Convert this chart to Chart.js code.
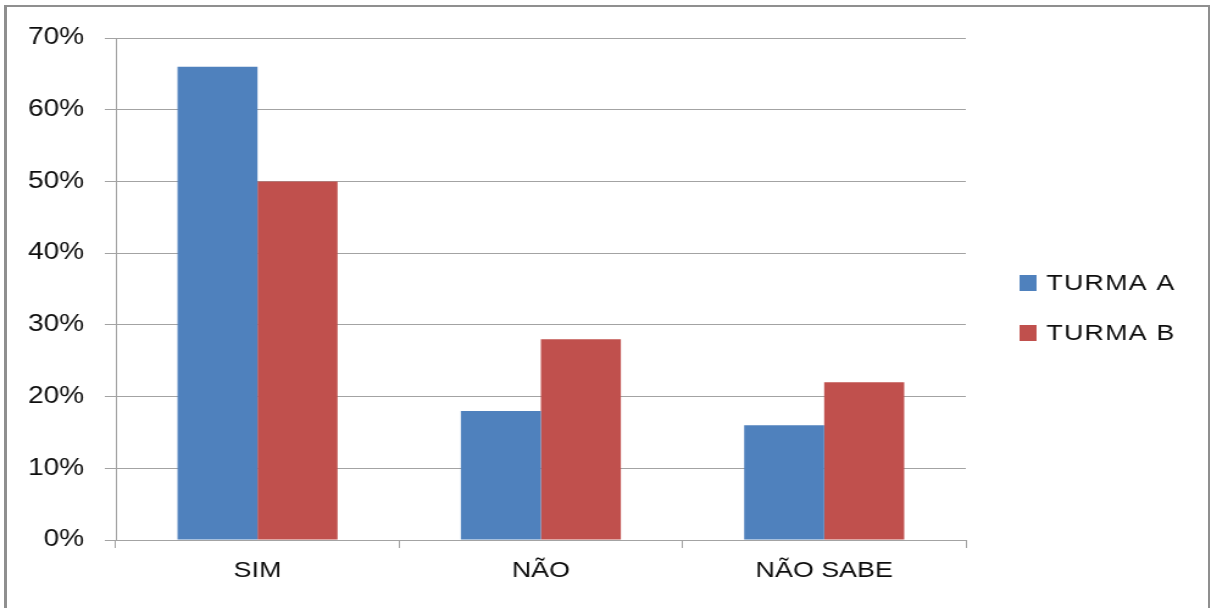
<!DOCTYPE html>
<html>
<head>
<meta charset="utf-8">
<script src="https://cdn.jsdelivr.net/npm/chart.js@4.4.1/dist/chart.umd.min.js"></script>
<style>
  html, body { margin: 0; padding: 0; background: #fff; }
  body { width: 1211px; height: 608px; position: relative; overflow: hidden; }
  #stage { position: absolute; left: 0; top: 0; width: 993px; height: 608px;
           transform-origin: 0 0; transform: scaleX(1.2195); }
  #frame { position: absolute; left: 4px; top: 5px; width: 1201px; height: 620px;
           border-left: 3px solid #8f8f8f; border-top: 2px solid #8f8f8f; border-right: 2px solid #8f8f8f;
           pointer-events: none; }
</style>
</head>
<body>
<div id="stage"><canvas id="chart" width="993" height="608" style="width:993px;height:608px"></canvas></div>
<div id="frame"></div>
<script>
// Survey answers per class, in percent
const categories = ['SIM', 'NÃO', 'NÃO SABE'];
const turmaA = [66, 18, 16];
const turmaB = [50, 28, 22];
const seriesNames = ['TURMA A', 'TURMA B'];
const seriesColors = ['#4F81BD', '#C0504D'];
const yTickLabels = ['0%', '10%', '20%', '30%', '40%', '50%', '60%', '70%'];

const gridColor = '#a3a3a3';
const textColor = '#0d0d0d';
const fontFamily = "'Liberation Sans', Arial, sans-serif";

// Legend drawn at the right, one row per series
const sideLegend = {
  id: 'sideLegend',
  afterDraw(chart) {
    const ctx = chart.ctx;
    ctx.save();
    ctx.font = '22px ' + fontFamily;
    ctx.letterSpacing = '1px';
    ctx.textBaseline = 'middle';
    ctx.textAlign = 'left';
    chart.data.datasets.forEach((ds, i) => {
      const cy = 283 + i * 50;
      ctx.fillStyle = ds.backgroundColor;
      ctx.fillRect(836, cy - 8, 14, 16);
      ctx.fillStyle = textColor;
      ctx.fillText(ds.label, 858, cy + 1);
    });
    ctx.restore();
  }
};

new Chart(document.getElementById('chart'), {
  type: 'bar',
  data: {
    labels: categories,
    datasets: [
      { label: seriesNames[0], data: turmaA, backgroundColor: seriesColors[0] },
      { label: seriesNames[1], data: turmaB, backgroundColor: seriesColors[1] }
    ]
  },
  options: {
    responsive: false,
    animation: false,
    devicePixelRatio: 1,
    layout: { padding: { top: 38, right: 201, bottom: 0, left: 0 } },
    plugins: { legend: { display: false }, tooltip: { enabled: false } },
    datasets: { bar: { categoryPercentage: 0.565, barPercentage: 1.0 } },
    scales: {
      x: {
        afterFit(scale) { scale.height = 68; },
        grid: { drawOnChartArea: false, drawTicks: true, tickLength: 8, color: gridColor, offset: true },
        border: { color: gridColor },
        ticks: { color: textColor, padding: 10, font: { family: fontFamily, size: 22 } }
      },
      y: {
        min: 0, max: 70,
        afterFit(scale) { scale.width = 95; },
        grid: { color: gridColor, tickLength: 9 },
        border: { color: gridColor },
        ticks: {
          stepSize: 10, padding: 17, color: textColor,
          font: { family: fontFamily, size: 23 },
          callback: (v, i) => yTickLabels[i]
        }
      }
    }
  },
  plugins: [sideLegend]
});
</script>
</body>
</html>
